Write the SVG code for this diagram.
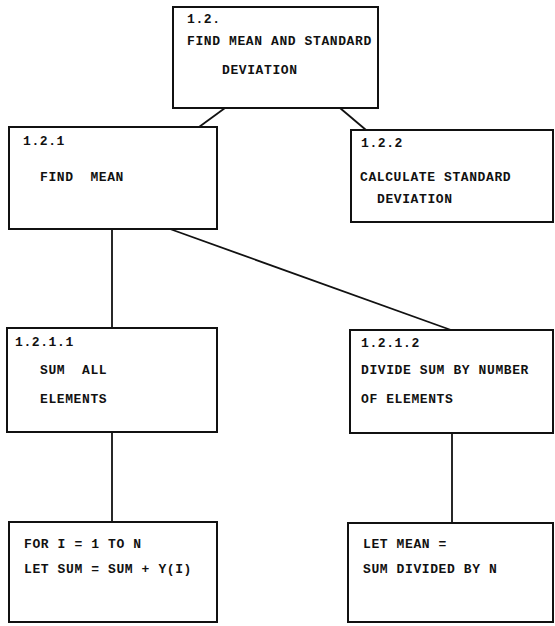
<svg xmlns="http://www.w3.org/2000/svg" width="555" height="626" viewBox="0 0 555 626">
<style>
.box{fill:#fff;stroke:#111;stroke-width:2}
.t{font-family:"Liberation Mono","DejaVu Sans Mono",monospace;font-size:13px;font-weight:bold;letter-spacing:0.6px;fill:#111;white-space:pre}
.c{stroke:#111;stroke-width:1.8;fill:none}
</style>
<rect width="555" height="626" fill="#fff"/>
<g id="connectors">
<line class="c" x1="225" y1="108" x2="199" y2="127"/>
<line class="c" x1="340" y1="108" x2="366" y2="130"/>
<line class="c" x1="112" y1="229" x2="112" y2="328"/>
<line class="c" x1="170" y1="229" x2="451" y2="330"/>
<line class="c" x1="112" y1="432" x2="112" y2="522"/>
<line class="c" x1="452" y1="433" x2="452" y2="523"/>
</g>
<g id="n1_2">
<rect class="box" x="173" y="7" width="205" height="101"/>
<text class="t" x="187" y="23">1.2.</text>
<text class="t" x="187" y="45">FIND MEAN AND STANDARD</text>
<text class="t" x="222" y="74">DEVIATION</text>
</g>
<g id="n1_2_1">
<rect class="box" x="9" y="127" width="208" height="102"/>
<text class="t" x="23" y="145">1.2.1</text>
<text class="t" x="40" y="181" xml:space="preserve">FIND  MEAN</text>
</g>
<g id="n1_2_2">
<rect class="box" x="351" y="130" width="202" height="92"/>
<text class="t" x="361" y="147">1.2.2</text>
<text class="t" x="360" y="181">CALCULATE STANDARD</text>
<text class="t" x="377" y="203">DEVIATION</text>
</g>
<g id="n1_2_1_1">
<rect class="box" x="7" y="328" width="210" height="104"/>
<text class="t" x="15" y="346">1.2.1.1</text>
<text class="t" x="40" y="374" xml:space="preserve">SUM  ALL</text>
<text class="t" x="40" y="403">ELEMENTS</text>
</g>
<g id="n1_2_1_2">
<rect class="box" x="350" y="330" width="203" height="103"/>
<text class="t" x="361" y="347">1.2.1.2</text>
<text class="t" x="361" y="374">DIVIDE SUM BY NUMBER</text>
<text class="t" x="361" y="403">OF ELEMENTS</text>
</g>
<g id="n_sum_loop">
<rect class="box" x="9" y="522" width="208" height="100"/>
<text class="t" x="24" y="548">FOR I = 1 TO N</text>
<text class="t" x="24" y="573">LET SUM = SUM + Y(I)</text>
</g>
<g id="n_mean">
<rect class="box" x="348" y="523" width="205" height="99"/>
<text class="t" x="363" y="548">LET MEAN =</text>
<text class="t" x="363" y="573">SUM DIVIDED BY N</text>
</g>
</svg>
